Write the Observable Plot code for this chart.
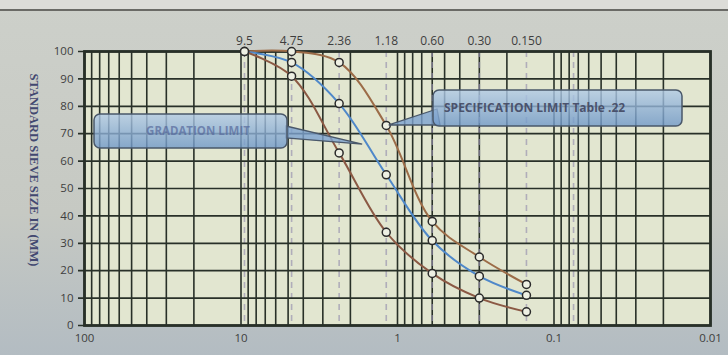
<!DOCTYPE html>
<html><head><meta charset="utf-8">
<script src="https://cdn.jsdelivr.net/npm/d3@7"></script>
<script src="https://cdn.jsdelivr.net/npm/@observablehq/plot@0.6"></script>
<style>
html,body{margin:0;padding:0;}
body{width:728px;height:355px;overflow:hidden;background:linear-gradient(#cdd0ca 0%,#c6c9c3 60%,#b3bcc2 100%);}
#chart{position:relative;width:728px;height:355px;}
#topbar{position:absolute;left:0;top:0;width:728px;height:9px;background:#dcdcd8;border-bottom:2px solid #6a6a66;}
#chart svg{position:absolute;left:0;top:0;}
</style></head><body><div id="chart"><div id="topbar"></div></div>
<script>
// ---- data ----
const sieves = [9.5, 4.75, 2.36, 1.18, 0.6, 0.3, 0.15];
const sieveLabels = ["9.5", "4.75", "2.36", "1.18", "0.60", "0.30", "0.150"];
const upperLimit = [100, 100, 96, 73, 38, 25, 15];
const gradation  = [100, 96, 81, 55, 31, 18, 11];
const lowerLimit = [100, 91, 63, 34, 19, 10, 5];
const dashedSieves = [9.5, 4.75, 2.36, 1.18, 0.6, 0.3, 0.15, 0.075];
const bottomTicks = [100, 10, 1, 0.1, 0.01];
const bottomLabels = ["100", "10", "1", "0.1", "0.01"];
const yTicks = [0, 10, 20, 30, 40, 50, 60, 70, 80, 90, 100];
const yTitle = "STANDARD SIEVE SIZE IN (MM)";
const gradationLabel = "GRADATION LIMIT";
const specLabel = "SPECIFICATION LIMIT Table .22";

const toRows = vals => vals.map((v, i) => ({size: sieves[i], pass: v}));
const upperRows = toRows(upperLimit), gradRows = toRows(gradation), lowerRows = toRows(lowerLimit);
const gridX = d3.scaleLog().domain([0.01, 100]).ticks();

const grid = "#283028";
const plot = Plot.plot({
  width: 728, height: 355,
  marginLeft: 84, marginRight: 18, marginTop: 51, marginBottom: 30,
  style: {background: "transparent", fontFamily: "Open Sans", fontSize: "11.5px", color: "#3b3b3b"},
  x: {type: "log", domain: [100, 0.01], axis: null},
  y: {domain: [0, 100], axis: null},
  marks: [
    Plot.frame({fill: "#e2e6d0"}),
    Plot.ruleX(gridX, {stroke: grid, strokeWidth: 1.6}),
    Plot.ruleX(dashedSieves, {stroke: "#958fae", strokeWidth: 1.6, strokeDasharray: "6,5", strokeOpacity: 0.65}),
    Plot.ruleY(yTicks, {stroke: grid, strokeWidth: 1.7, insetLeft: -6}),
    Plot.frame({stroke: grid, strokeWidth: 2.8}),
    Plot.line(upperRows, {x: "size", y: "pass", stroke: "#9c6c48", strokeWidth: 2, curve: "catmull-rom"}),
    Plot.line(gradRows, {x: "size", y: "pass", stroke: "#4f88c9", strokeWidth: 2, curve: "catmull-rom"}),
    Plot.line(lowerRows, {x: "size", y: "pass", stroke: "#8b5944", strokeWidth: 2, curve: "catmull-rom"}),
    Plot.dot([...upperRows, ...gradRows, ...lowerRows], {x: "size", y: "pass", r: 4, fill: "#eef0e3", stroke: "#2a2a2a", strokeWidth: 1.5}),
    Plot.text(yTicks, {y: d => d, frameAnchor: "left", dx: -11, textAnchor: "end", text: d => String(d), fill: "#3e3e3e"}),
    Plot.text(bottomTicks, {x: d => d, frameAnchor: "bottom", dy: 16, text: (d, i) => bottomLabels[i], fill: "#3e3e3e"}),
    Plot.text(sieves, {x: d => d, frameAnchor: "top", dy: -15, text: (d, i) => sieveLabels[i], fill: "#3e3e3e", fontSize: 12})
  ]
});
document.getElementById("chart").appendChild(plot);

// ---- annotations ----
const sx = plot.scale("x"), sy = plot.scale("y");
const X = v => sx.apply(v), Y = v => sy.apply(v);
const svg = d3.select(plot);
const defs = svg.append("defs");
const g = defs.append("linearGradient").attr("id", "boxg").attr("x1", 0).attr("y1", 0).attr("x2", 0).attr("y2", 1);
g.append("stop").attr("offset", "0%").attr("stop-color", "#b2cbe6");
g.append("stop").attr("offset", "100%").attr("stop-color", "#6f98c8");

svg.append("text")
  .attr("transform", "translate(30,170) rotate(90)")
  .attr("text-anchor", "middle")
  .attr("font-family", "Liberation Serif").attr("font-weight", "bold").attr("font-size", 12.5)
  .attr("fill", "#424870").text(yTitle);

function callout(bx, by, bw, bh, tail, label, textX, opts) {
  const a = svg.append("g");
  a.append("polygon").attr("points", tail.map(p => p.join(",")).join(" "))
    .attr("fill", "#7da3cf").attr("fill-opacity", 0.8).attr("stroke", "#4a586a").attr("stroke-width", 1.3);
  a.append("rect").attr("x", bx).attr("y", by).attr("width", bw).attr("height", bh).attr("rx", 6)
    .attr("fill", "url(#boxg)").attr("fill-opacity", 0.8).attr("stroke", "#4a586a").attr("stroke-width", 1.5);
  a.append("text").attr("x", textX).attr("y", by + bh / 2).attr("dy", "0.35em")
    .attr("text-anchor", opts.anchor).attr("font-family", "Open Sans").attr("font-weight", 700)
    .attr("font-size", opts.size).attr("fill", opts.color).attr("fill-opacity", opts.op).text(label);
}
// gradation limit callout, pointing at the gradation curve
callout(94, 114, 193, 34, [[286, 126], [X(1.67), Y(66)], [286, 138]], gradationLabel, 198,
  {anchor: "middle", size: 11.5, color: "#55679a", op: 0.7});
// specification limit callout, pointing at upper limit at 1.18
callout(433, 90, 249, 36, [[437, 109], [X(1.18) + 3, Y(73)], [440, 125]], specLabel, 444,
  {anchor: "start", size: 12, color: "#464c66", op: 0.95});
</script></body></html>
